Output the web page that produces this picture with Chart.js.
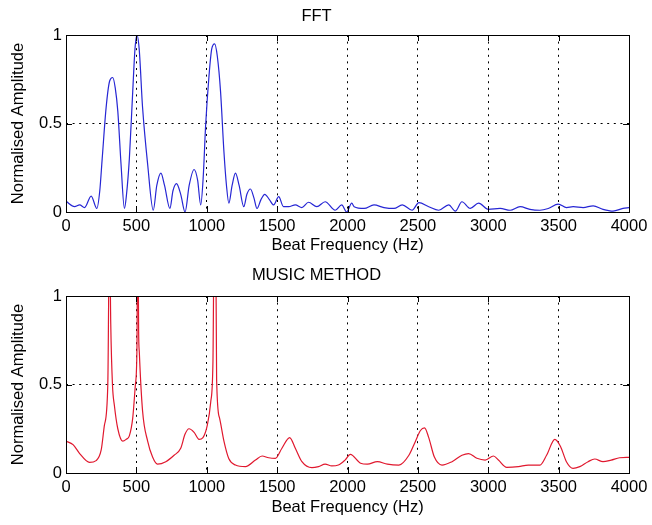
<!DOCTYPE html>
<html>
<head>
<meta charset="utf-8">
<title>FFT vs MUSIC</title>
<script src="https://cdn.jsdelivr.net/npm/chart.js@4.4.0/dist/chart.umd.min.js"></script>
<style>
  html, body { margin: 0; padding: 0; background: #fff; }
  #wrap { position: relative; width: 652px; height: 525px; }
  .panel { position: absolute; left: 0; width: 652px; }
  #p-fft { top: 0; height: 262px; }
  #p-music { top: 262px; height: 263px; }
</style>
</head>
<body>
<div id="wrap">
  <div class="panel" id="p-fft"><canvas id="chartFft"></canvas></div>
  <div class="panel" id="p-music"><canvas id="chartMusic"></canvas></div>
</div>
<script>
// === Data ===
const xTicks = [0, 500, 1000, 1500, 2000, 2500, 3000, 3500, 4000];
const yTicks = [0, 0.5, 1];

// FFT spectrum
const fftHz = [
  0, 61, 97, 132, 179, 219, 240, 257, 285, 310, 332, 350, 368, 391, 415,
  430, 450, 474, 490, 504, 520, 544, 580, 620,
  645, 674, 700, 738, 760, 785, 815, 846, 875, 910, 935, 957,
  975, 992, 1016, 1035, 1056, 1075, 1098, 1122, 1140, 1157,
  1180, 1204, 1230, 1263, 1285, 1310, 1335, 1357, 1385, 1412, 1445, 1475, 1511,
  1545, 1582, 1629, 1676, 1723, 1782, 1841, 1912, 1959, 1994, 2030,
  2047, 2118, 2188, 2259, 2330, 2389, 2459, 2507, 2577, 2648, 2719, 2766, 2813,
  2872, 2931, 3001, 3084, 3155, 3226, 3296, 3367, 3426, 3497, 3556, 3603,
  3674, 3745, 3815, 3886, 3957, 4000
];
const fftAmp = [
  0.06, 0.03, 0.04, 0.025, 0.09, 0.02, 0.12, 0.30, 0.59, 0.74, 0.76, 0.70, 0.57, 0.27, 0.02,
  0.10, 0.30, 0.68, 0.92, 1.0, 0.92, 0.59, 0.27, 0.01,
  0.15, 0.22, 0.15, 0.02, 0.12, 0.16, 0.10, 0.0, 0.15, 0.24, 0.18, 0.04,
  0.20, 0.49, 0.77, 0.92, 0.95, 0.88, 0.68, 0.34, 0.15, 0.05,
  0.15, 0.22, 0.15, 0.03, 0.10, 0.13, 0.08, 0.02, 0.07, 0.10, 0.07, 0.04, 0.087,
  0.03, 0.03, 0.04, 0.025, 0.055, 0.03, 0.058, 0.01, 0.04, 0.0, 0.05,
  0.03, 0.02, 0.04, 0.025, 0.02, 0.04, 0.01, 0.053, 0.03, 0.01, 0.04, 0.005, 0.058,
  0.02, 0.05, 0.015, 0.02, 0.01, 0.03, 0.015, 0.01, 0.02, 0.045, 0.025, 0.03,
  0.025, 0.035, 0.015, 0.005, 0.02, 0.025
];

// MUSIC pseudo-spectrum (spikes run past the top of the axes)
const musicHz = [
  0, 50, 97, 167, 214, 250, 273, 297, 309, 318, 330, 344, 368, 403, 427, 450, 474,
  493, 504, 510, 516, 521, 544, 580, 615, 650, 709, 768, 815, 846, 874, 910, 945,
  973, 1004, 1028, 1044, 1053, 1058, 1063, 1070, 1091, 1122, 1157, 1204, 1275,
  1346, 1393, 1440, 1487, 1534, 1589, 1629, 1676, 1747, 1794, 1841, 1888, 1935,
  1982, 2020, 2093, 2141, 2212, 2283, 2365, 2436, 2483, 2518, 2547, 2577, 2617,
  2671, 2742, 2813, 2860, 2919, 2978, 3037, 3072, 3131, 3214, 3284, 3367, 3414,
  3473, 3513, 3555, 3602, 3650, 3709, 3756, 3815, 3873, 3933, 4000
];
const musicAmp = [
  0.18, 0.16, 0.11, 0.06, 0.07, 0.13, 0.27, 0.50, 1.4, 0.84, 0.50, 0.38, 0.25, 0.18, 0.19, 0.21, 0.31,
  0.50, 0.70, 1.5, 0.80, 0.68, 0.35, 0.18, 0.09, 0.05, 0.064, 0.10, 0.14, 0.22, 0.25, 0.23, 0.19,
  0.20, 0.27, 0.40, 0.63, 1.4, 1.1, 1.4, 0.53, 0.31, 0.18, 0.08, 0.045, 0.036,
  0.073, 0.096, 0.086, 0.083, 0.14, 0.20, 0.14, 0.064, 0.03, 0.036, 0.05, 0.04, 0.045,
  0.073, 0.105, 0.055, 0.05, 0.064, 0.05, 0.045, 0.10, 0.18, 0.24, 0.255, 0.20, 0.09,
  0.045, 0.064, 0.10, 0.11, 0.083, 0.073, 0.096, 0.073, 0.032, 0.036, 0.045, 0.045, 0.10,
  0.19, 0.15, 0.064, 0.026, 0.036, 0.064, 0.079, 0.064, 0.073, 0.086, 0.088
];

// -- helpers
const FONT = "'Liberation Sans', Arial, sans-serif";
const FS = 16.5;

function toPoints(xs, ys) {
  return xs.map((x, i) => ({ x: x, y: ys[i] }));
}

// box around the axes + inward tick marks (matlab look)
const boxPlugin = {
  id: "matlabBox",
  afterDatasetsDraw(chart) {
    const { ctx, chartArea: a, scales } = chart;
    const tl = 6;
    ctx.save();
    ctx.strokeStyle = "#000";
    ctx.lineWidth = 1;
    ctx.setLineDash([]);
    ctx.strokeRect(Math.round(a.left) + 0.5, Math.round(a.top) + 0.5,
      Math.round(a.right - a.left), Math.round(a.bottom - a.top));
    ctx.beginPath();
    scales.x.ticks.forEach((t) => {
      const px = Math.round(scales.x.getPixelForValue(t.value)) + 0.5;
      ctx.moveTo(px, a.top); ctx.lineTo(px, a.top + tl);
      ctx.moveTo(px, a.bottom); ctx.lineTo(px, a.bottom - tl);
    });
    scales.y.ticks.forEach((t) => {
      const py = Math.round(scales.y.getPixelForValue(t.value)) + 0.5;
      ctx.moveTo(a.left, py); ctx.lineTo(a.left + tl, py);
      ctx.moveTo(a.right, py); ctx.lineTo(a.right - tl, py);
    });
    ctx.stroke();
    ctx.restore();
  },
};

function gridColor(edges) {
  return (c) => (c.tick && edges.includes(c.tick.value) ? "rgba(0,0,0,0)" : "#000");
}

// === Chart factory ===
function makeChart(id, o) {
  const ctx = document.getElementById(id).getContext("2d");
  return new Chart(ctx, {
    type: "line",
    data: {
      datasets: [
        {
          data: toPoints(o.xs, o.ys),
          borderColor: o.color,
          borderWidth: 1.2,
          pointRadius: 0,
          fill: false,
          tension: 0,
          cubicInterpolationMode: "monotone",
        },
      ],
    },
    options: {
      responsive: true,
      maintainAspectRatio: false,
      animation: false,
      events: [],
      layout: { padding: { left: 0, right: 19, top: 0, bottom: 0 } },
      plugins: {
        legend: { display: false },
        tooltip: { enabled: false },
        title: {
          display: true,
          text: o.title,
          color: "#000",
          font: { family: FONT, size: FS, weight: "normal" },
          padding: o.titlePad,
        },
      },
      scales: {
        x: {
          type: "linear",
          min: 0,
          max: 4000,
          afterBuildTicks: (s) => { s.ticks = xTicks.map((v) => ({ value: v })); },
          afterFit: (s) => { s.height = o.xAxisH; },
          ticks: {
            color: "#000",
            font: { family: FONT, size: FS },
            padding: 4.6,
            maxRotation: 0,
            autoSkip: false,
            callback: (v) => String(v),
          },
          grid: { color: gridColor([0, 4000]), lineWidth: 1, drawTicks: false },
          border: { display: false, dash: [2, 4.6] },
          title: {
            display: true,
            text: "Beat Frequency (Hz)",
            color: "#000",
            font: { family: FONT, size: FS },
            padding: { top: 0, bottom: o.xTitlePad },
          },
        },
        y: {
          type: "linear",
          min: 0,
          max: 1,
          afterBuildTicks: (s) => { s.ticks = yTicks.map((v) => ({ value: v })); },
          afterFit: (s) => { s.width = 66; },
          ticks: {
            color: "#000",
            font: { family: FONT, size: FS },
            padding: 4,
            callback: (v) => String(v),
          },
          grid: { color: gridColor([0, 1]), lineWidth: 1, drawTicks: false },
          border: { display: false, dash: [2, 4.6] },
          title: {
            display: true,
            text: "Normalised Amplitude",
            color: "#000",
            font: { family: FONT, size: FS },
            padding: { top: 8.1, bottom: 0 },
          },
        },
      },
    },
    plugins: [boxPlugin],
  });
}

// init everything
makeChart("chartFft", {
  xs: fftHz,
  ys: fftAmp,
  color: "#2626d4",
  title: "FFT",
  titlePad: { top: 6.1, bottom: 9.1 },
  xAxisH: 50,
  xTitlePad: 7.1,
});
makeChart("chartMusic", {
  xs: musicHz,
  ys: musicAmp,
  color: "#e0182e",
  title: "MUSIC METHOD",
  titlePad: { top: 3.1, bottom: 11.1 },
  xAxisH: 52,
  xTitlePad: 8.1,
});
</script>
</body>
</html>
